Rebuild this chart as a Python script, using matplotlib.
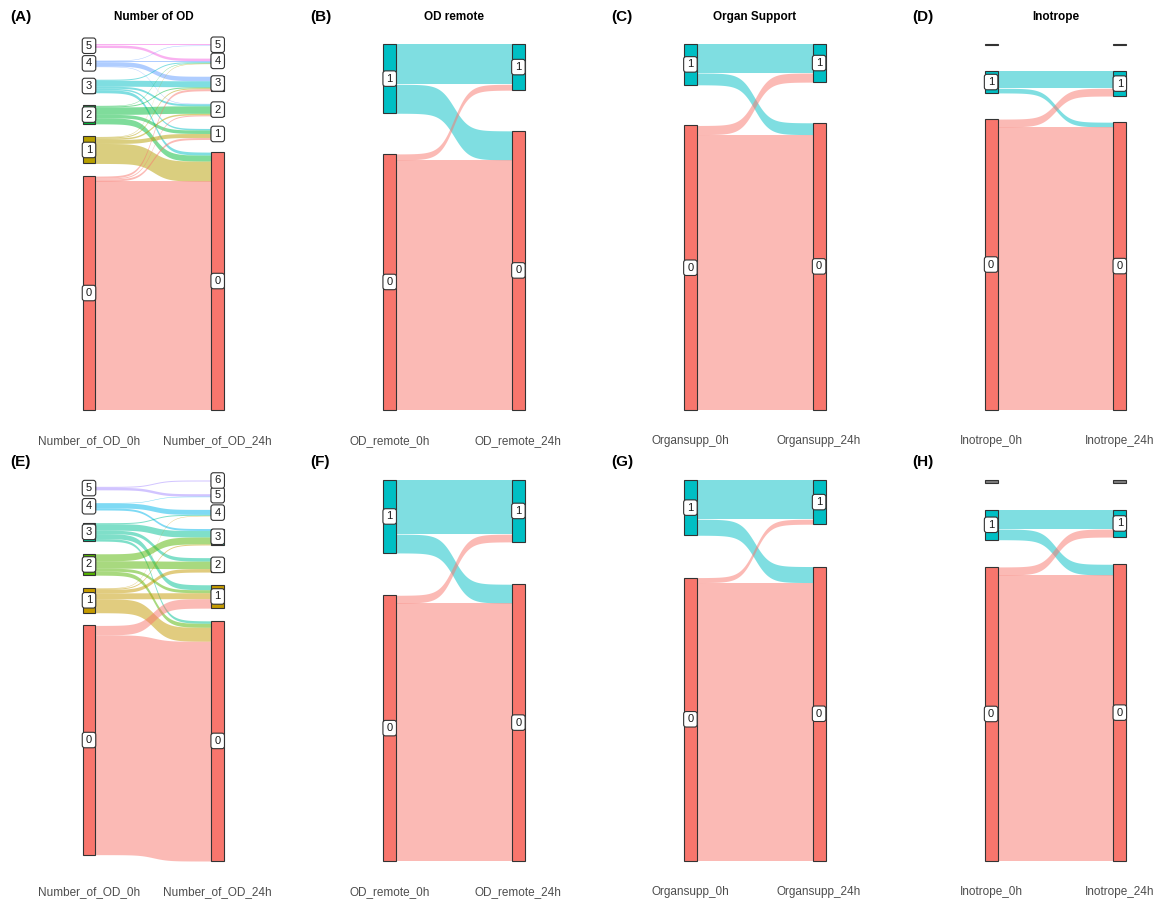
import numpy as np
import matplotlib
matplotlib.use("Agg")
import matplotlib.pyplot as plt
from matplotlib.patches import Rectangle, FancyBboxPatch
import matplotlib.transforms as mtransforms

plt.rcParams['font.family'] = ['Liberation Sans', 'DejaVu Sans']

# ---------------- data: patient counts, rows = level at 0h, columns = level at 24h
# first cohort
number_of_od_levels_0h = ["0", "1", "2", "3", "4", "5"]
number_of_od_levels_24h = ["0", "1", "2", "3", "4", "5"]
number_of_od_flows = [
    [458, 4, 2, 4, 0, 0],
    [40, 8, 3, 2, 1, 0],
    [12, 7, 15, 2, 1, 0],
    [6, 3, 4, 12, 2, 0],
    [0, 0, 1, 9, 2, 1],
    [0, 0, 0, 0, 5, 2],
]
od_remote_levels = ["0", "1"]
od_remote_flows = [[466, 11], [54, 75]]
organ_support_levels = ["0", "1"]
organ_support_flows = [[513, 17], [22, 54]]
inotrope_levels = ["0", "1", "NA"]
inotrope_flows = [[547, 15, 0], [9, 33, 0], [0, 0, 2]]

# second cohort
number_of_od_levels_0h_b = ["0", "1", "2", "3", "4", "5"]
number_of_od_levels_24h_b = ["0", "1", "2", "3", "4", "5", "6"]
number_of_od_flows_b = [
    [442, 19, 0, 0, 0, 0, 0],
    [28, 12, 7, 2, 1, 0, 0],
    [8, 6, 15, 14, 0, 0, 0],
    [5, 10, 7, 13, 2, 0, 0],
    [0, 0, 0, 4, 10, 1, 0],
    [0, 0, 0, 0, 0, 5, 2],
]
od_remote_flows_b = [[467, 14], [34, 98]]
organ_support_flows_b = [[504, 9], [29, 71]]
inotrope_flows_b = [[537, 15, 0], [20, 36, 0], [0, 0, 5]]

panel_tags = ["(A)", "(B)", "(C)", "(D)", "(E)", "(F)", "(G)", "(H)"]
panel_titles = ["Number of OD", "OD remote", "Organ Support", "Inotrope"]
axis_labels = [
    ("Number_of_OD_0h", "Number_of_OD_24h"),
    ("OD_remote_0h", "OD_remote_24h"),
    ("Organsupp_0h", "Organsupp_24h"),
    ("Inotrope_0h", "Inotrope_24h"),
]

# ---------------- styling
HUE = {
    2: ["#F8766D", "#00BFC4"],
    6: ["#F8766D", "#B79F00", "#00BA38", "#00BFC4", "#619CFF", "#F564E3"],
    7: ["#F8766D", "#C49A00", "#53B400", "#00C094", "#00B6EB", "#A58AFF", "#FB61D7"],
}
NA_COLOUR = "#7F7F7F"
NODE_EDGE = "#333333"
TICK_COLOUR = "#4D4D4D"

W_PX, H_PX, DPI = 1160, 906, 100
fig = plt.figure(figsize=(W_PX / DPI, H_PX / DPI), dpi=DPI)

COL_PITCH = 300.7      # horizontal distance between panels (px)
COL_FIRST = 89.0       # x of the first 0h column (px)
COL_GAP = 128.7        # distance 0h -> 24h column (px)
SIDE = 85.0            # horizontal room either side of the columns (px)
ROWS = [(44.0, 410.0, 17.0), (480.0, 861.0, 462.0)]   # (top, bottom, tag y) in px


def sigmoid_curve(t):
    z = 1.0 / (1.0 + np.exp(-16.0 * (t - 0.5)))
    lo = 1.0 / (1.0 + np.exp(8.0))
    hi = 1.0 / (1.0 + np.exp(-8.0))
    return (z - lo) / (hi - lo)


def level_colours(levels):
    real = sorted({l for l in levels if l != "NA"}, key=int)
    pal = HUE[len(real)]
    cmap = {l: pal[i] for i, l in enumerate(real)}
    cmap["NA"] = NA_COLOUR
    return cmap


def stack(totals, space):
    ext = totals.sum() + space * (len(totals) - 1)
    y = -ext / 2.0
    bottoms = []
    for t in totals:
        bottoms.append(y)
        y += t + space
    return np.array(bottoms), ext


def add_label(ax, x, y, text):
    trans = fig.dpi_scale_trans + mtransforms.ScaledTranslation(x, y, ax.transData)
    bw, bh = 0.135, 0.155
    box = FancyBboxPatch((-bw / 2, -bh / 2), bw, bh,
                         boxstyle="round,pad=0,rounding_size=0.025",
                         transform=trans, facecolor="white", edgecolor=NODE_EDGE,
                         linewidth=0.8, clip_on=False, zorder=5)
    ax.add_patch(box)
    ax.text(x, y, text, ha="center", va="center", fontsize=8, color="#1A1A1A",
            zorder=6, clip_on=False)


def draw_sankey(ax, src_levels, dst_levels, flows, node_w=0.1):
    flows = np.asarray(flows, dtype=float)
    total = flows.sum()
    space = total / (4.0 * len(src_levels))
    cmap = level_colours(list(src_levels) + list(dst_levels))

    src_tot = flows.sum(axis=1)
    dst_tot = flows.sum(axis=0)
    src_bot, ext_s = stack(src_tot, space)
    dst_bot, ext_d = stack(dst_tot, space)
    ext = max(ext_s, ext_d)

    # band positions inside each node
    out_cursor = src_bot.copy()
    out_pos = {}
    for i in range(flows.shape[0]):
        for j in range(flows.shape[1]):
            out_pos[(i, j)] = out_cursor[i]
            out_cursor[i] += flows[i, j]
    in_cursor = dst_bot.copy()
    in_pos = {}
    for j in range(flows.shape[1]):
        for i in range(flows.shape[0]):
            in_pos[(i, j)] = in_cursor[j]
            in_cursor[j] += flows[i, j]

    x0, x1 = 1 + node_w / 2, 2 - node_w / 2
    t = np.linspace(0, 1, 300)
    s = sigmoid_curve(t)
    xs = x0 + (x1 - x0) * t
    for i in reversed(range(flows.shape[0])):
        for j in range(flows.shape[1]):
            f = flows[i, j]
            # missing values get a node but no ribbon
            if f <= 0 or src_levels[i] == "NA" or dst_levels[j] == "NA":
                continue
            yb0, yb1 = out_pos[(i, j)], in_pos[(i, j)]
            lower = yb0 + (yb1 - yb0) * s
            upper = lower + f
            ax.fill_between(xs, lower, upper, color=cmap[src_levels[i]],
                            alpha=0.5, linewidth=0, zorder=2)

    for col, levels, bots, tots in ((1, src_levels, src_bot, src_tot),
                                    (2, dst_levels, dst_bot, dst_tot)):
        for lvl, b, h in zip(levels, bots, tots):
            ax.add_patch(Rectangle((col - node_w / 2, b), node_w, h,
                                   facecolor=cmap[lvl], edgecolor=NODE_EDGE,
                                   linewidth=0.8, zorder=3, clip_on=False))
        for lvl, b, h in zip(levels, bots, tots):
            if lvl != "NA":
                add_label(ax, col, b + h / 2, lvl)

    ax.set_ylim(-ext / 2, ext / 2)


panels = [
    (number_of_od_levels_0h, number_of_od_levels_24h, number_of_od_flows),
    (od_remote_levels, od_remote_levels, od_remote_flows),
    (organ_support_levels, organ_support_levels, organ_support_flows),
    (inotrope_levels, inotrope_levels, inotrope_flows),
    (number_of_od_levels_0h_b, number_of_od_levels_24h_b, number_of_od_flows_b),
    (od_remote_levels, od_remote_levels, od_remote_flows_b),
    (organ_support_levels, organ_support_levels, organ_support_flows_b),
    (inotrope_levels, inotrope_levels, inotrope_flows_b),
]

for k, (src, dst, fl) in enumerate(panels):
    row, col = divmod(k, 4)
    top, bottom, tag_y = ROWS[row]
    left_c = COL_FIRST + COL_PITCH * col
    x_left = left_c - SIDE
    width = COL_GAP + 2 * SIDE
    ax = fig.add_axes([x_left / W_PX, 1 - bottom / H_PX, width / W_PX, (bottom - top) / H_PX])
    draw_sankey(ax, src, dst, fl)
    ax.set_xlim(1 - SIDE / COL_GAP, 2 + SIDE / COL_GAP)
    ax.set_xticks([1, 2], list(axis_labels[col]))
    ax.tick_params(axis="x", length=0, pad=18, labelsize=8.5, labelcolor=TICK_COLOUR)
    ax.set_yticks([])
    for sp in ax.spines.values():
        sp.set_visible(False)
    ax.patch.set_alpha(0)

    tag_x = 10 + COL_PITCH * col
    fig.text(tag_x / W_PX, 1 - tag_y / H_PX, panel_tags[k], ha="left", va="center",
             fontsize=11, fontweight="bold", color="black")
    if row == 0:
        centre = left_c + COL_GAP / 2
        fig.text(centre / W_PX, 1 - 17 / H_PX, panel_titles[col], ha="center",
                 va="center", fontsize=8.5, fontweight="bold", color="black")

fig.savefig("out.png", dpi=DPI, facecolor="white")
